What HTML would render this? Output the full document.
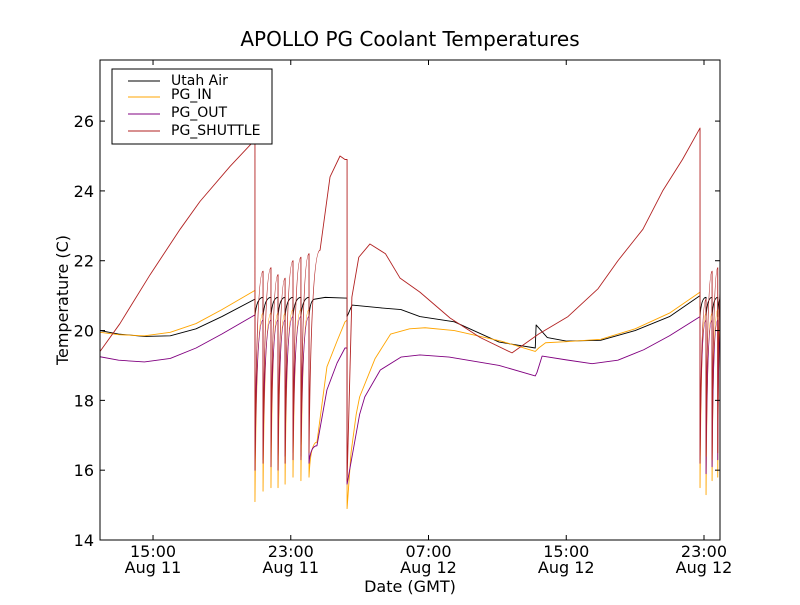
<!DOCTYPE html>
<html><head><meta charset="utf-8"><style>
html,body{margin:0;padding:0;background:#fff;}
svg text{font-family:"DejaVu Sans","Liberation Sans",sans-serif;}
</style></head><body>
<svg id="chart" width="800" height="600" viewBox="0 0 800 600" xmlns="http://www.w3.org/2000/svg">
<rect x="0" y="0" width="800" height="600" fill="#fff"/>
<text x="410" y="46" font-size="20" text-anchor="middle">APOLLO PG Coolant Temperatures</text>
<g id="plot"></g>
<rect x="100" y="60" width="620" height="480" fill="none" stroke="#000" stroke-width="1"/>
<g id="axes"></g>
<text x="0" y="0" transform="translate(68,300) rotate(-90)" font-size="16" text-anchor="middle">Temperature (C)</text>
<text x="410" y="592" font-size="16" text-anchor="middle">Date (GMT)</text>
<g>
<rect x="112" y="69" width="160" height="75" fill="#fff" stroke="#000" stroke-width="1"/>
<line x1="128" y1="81" x2="160" y2="81" stroke="#000" stroke-width="1"/>
<text x="171" y="85" font-size="14">Utah Air</text>
<line x1="128" y1="97" x2="160" y2="97" stroke="#FFA500" stroke-width="1"/>
<text x="171" y="99" font-size="14">PG_IN</text>
<line x1="128" y1="114" x2="160" y2="114" stroke="#800080" stroke-width="1"/>
<text x="171" y="117" font-size="14">PG_OUT</text>
<line x1="128" y1="131" x2="160" y2="131" stroke="#B22222" stroke-width="1"/>
<text x="171" y="135" font-size="14">PG_SHUTTLE</text>
</g>
</svg>
<script>
// hours since Aug 11 00:00 GMT
const yTicks = [14, 16, 18, 20, 22, 24, 26];
const xTickHours = [15, 23, 31, 39, 47];
const xTickTimes = ["15:00", "23:00", "07:00", "15:00", "23:00"];
const xTickDates = ["Aug 11", "Aug 11", "Aug 12", "Aug 12", "Aug 12"];

const cycleATimes = [20.92, 21.39, 21.85, 22.26, 22.67, 23.13, 23.59, 24.06];
const cycleBTimes = [46.77, 47.12, 47.47, 47.8];

const airPre = [[11.92,20.0],[13,19.9],[14.5,19.83],[16,19.85],[17.5,20.05],[19,20.4],[20.92,20.9]];
const airCycA_hi = [20.9,20.95,20.95,20.95,20.95,20.95,20.95,20.95];
const airCycA_lo = [20.4,20.4,20.4,20.4,20.4,20.4,20.4,20.4];
const airMid = [[24.4,20.9],[25,20.95],[26.15,20.93],[26.27,20.93],[26.27,20.4],[26.56,20.73],[28.2,20.65],[29.4,20.6],[30.5,20.4],[32.5,20.25],[35.1,19.67],[37.2,19.5],[37.25,20.16],[37.9,19.8],[39,19.7],[41,19.72],[43,20.0],[45,20.4],[46.77,21.0]];
const airCycB_hi = [21.0,20.95,20.95,20.95];
const airCycB_lo = [20.4,20.4,20.4,20.4];
const airEnd = [48.0,20.95];

const inPre = [[11.92,19.95],[13,19.88],[14.5,19.85],[16,19.95],[17.5,20.2],[19,20.6],[20.92,21.15]];
const inCycA_hi = [21.15,20.5,20.5,20.5,20.5,20.6,20.6,20.6];
const inCycA_lo = [15.1,15.4,15.5,15.5,15.6,15.8,15.7,15.8];
const inMid = [[24.52,16.8],[25.1,18.96],[25.69,19.7],[26.15,20.25],[26.27,20.3],[26.27,14.9],[26.5,16.5],[26.8,17.6],[27.0,18.1],[27.9,19.2],[28.8,19.9],[29.9,20.05],[30.8,20.08],[32.5,20.0],[34.3,19.8],[35.2,19.7],[37.2,19.4],[37.4,19.5],[37.8,19.65],[39,19.68],[41,19.75],[43,20.05],[45,20.5],[46.77,21.1]];
const inCycB_hi = [21.1,20.5,20.5,20.6];
const inCycB_lo = [15.5,15.3,15.7,15.8];
const inEnd = [48.0,20.6];

const outPre = [[11.92,19.25],[13,19.15],[14.5,19.1],[16,19.2],[17.5,19.5],[19,19.9],[20.92,20.45]];
const outCycA_hi = [20.45,20.3,20.3,20.3,20.3,20.4,20.4,20.4];
const outCycA_lo = [16.0,16.3,16.4,16.3,16.4,16.5,16.4,16.2];
const outMid = [[24.52,16.7],[25.1,18.3],[25.69,19.07],[26.15,19.5],[26.27,19.5],[26.27,15.6],[26.6,16.5],[27.0,17.6],[27.3,18.1],[28.2,18.87],[29.4,19.24],[30.5,19.3],[32.2,19.24],[35.1,19.0],[37.2,18.7],[37.3,18.8],[37.6,19.27],[39,19.16],[40.5,19.05],[42,19.15],[43.5,19.45],[45,19.85],[46.77,20.4]];
const outCycB_hi = [20.4,20.3,20.3,20.3];
const outCycB_lo = [16.3,15.9,16.1,16.3];
const outEnd = [48.0,20.3];

const shPre = [[11.92,19.4],[13.08,20.2],[14.83,21.6],[16.57,22.9],[17.73,23.7],[19.47,24.7],[20.8,25.4],[20.92,25.4]];
const shCycA_hi = [25.4,21.7,21.8,21.6,21.5,22.0,22.1,22.2];
const shCycA_lo = [16.0,16.2,16.1,16.0,16.2,16.3,16.3,16.5];
const shMid = [[24.7,22.3],[25.28,24.4],[25.86,25.0],[26.15,24.9],[26.27,24.9],[26.27,15.7],[26.55,20.96],[26.95,22.1],[27.6,22.48],[28.5,22.2],[29.35,21.5],[30.5,21.1],[32.25,20.36],[34.0,19.8],[35.85,19.36],[37.4,19.9],[39.1,20.4],[40.85,21.2],[42.0,22.0],[43.45,22.9],[44.6,24.0],[45.75,24.9],[46.77,25.8]];
const shCycB_hi = [25.8,20.9,21.7,21.8];
const shCycB_lo = [16.2,16.4,16.3,16.5];
const shEnd = [48.0,21.5];

const X0 = 100, X1 = 720, Y0 = 540, Y1 = 60;
const H0 = 11.92, H1 = 47.93, V0 = 14, V1 = 27.75;
function xs(h){ return X0 + (h - H0) / (H1 - H0) * (X1 - X0); }
function ys(v){ return Y0 - (v - V0) / (V1 - V0) * (Y0 - Y1); }

const NS = "http://www.w3.org/2000/svg";
const plot = document.getElementById("plot");
const axes = document.getElementById("axes");

const clip = document.createElementNS(NS, "clipPath");
clip.setAttribute("id", "pc");
const cr = document.createElementNS(NS, "rect");
cr.setAttribute("x", X0); cr.setAttribute("y", Y1); cr.setAttribute("width", X1 - X0); cr.setAttribute("height", Y0 - Y1);
clip.appendChild(cr);
plot.appendChild(clip);
plot.setAttribute("clip-path", "url(#pc)");

function pts(arr){ return arr.map(p => xs(p[0]).toFixed(2) + "," + ys(p[1]).toFixed(2)); }

function cyclePath(times, hi, lo, nextPt){
  let d = "";
  for (let i = 0; i < times.length; i++){
    const t = times[i];
    d += " L" + xs(t).toFixed(2) + "," + ys(hi[i]).toFixed(2);
    d += " L" + xs(t).toFixed(2) + "," + ys(lo[i]).toFixed(2);
    const nt = i + 1 < times.length ? times[i+1] : nextPt[0];
    const nv = i + 1 < times.length ? hi[i+1] : nextPt[1];
    const cx = t + 0.2 * (nt - t);
    d += " Q" + xs(cx).toFixed(2) + "," + ys(nv).toFixed(2) + " " + xs(nt).toFixed(2) + "," + ys(nv).toFixed(2);
  }
  return d;
}

function drawSeries(pre, aHi, aLo, mid, bHi, bLo, end, color, name){
  const p0 = pts(pre);
  let d = "M" + p0[0];
  for (let i = 1; i < p0.length; i++) d += " L" + p0[i];
  d += cyclePath(cycleATimes, aHi, aLo, mid[0]);
  pts(mid).forEach(s => d += " L" + s);
  d += cyclePath(cycleBTimes, bHi, bLo, end);
  const path = document.createElementNS(NS, "path");
  path.setAttribute("d", d);
  path.setAttribute("fill", "none");
  path.setAttribute("stroke", color);
  path.setAttribute("stroke-width", "0.9");
  path.setAttribute("stroke-linejoin", "round");
  
  
  plot.appendChild(path);
}

drawSeries(airPre, airCycA_hi, airCycA_lo, airMid, airCycB_hi, airCycB_lo, airEnd, "#000", "series-utah-air");
drawSeries(inPre, inCycA_hi, inCycA_lo, inMid, inCycB_hi, inCycB_lo, inEnd, "#FFA500", "series-pg-in");
drawSeries(outPre, outCycA_hi, outCycA_lo, outMid, outCycB_hi, outCycB_lo, outEnd, "#800080", "series-pg-out");
drawSeries(shPre, shCycA_hi, shCycA_lo, shMid, shCycB_hi, shCycB_lo, shEnd, "#B22222", "series-pg-shuttle");

function mk(tag, attrs){ const e = document.createElementNS(NS, tag); for (const k in attrs) e.setAttribute(k, attrs[k]); return e; }

yTicks.forEach(v => {
  const y = ys(v);
  const t1 = mk("line", {x1: X0, y1: y, x2: X0 + 5, y2: y, stroke: "#000"});
  
  
  axes.appendChild(t1);
  const t2 = mk("line", {x1: X1, y1: y, x2: X1 - 5, y2: y, stroke: "#000"});
  
  
  axes.appendChild(t2);
  const tx = mk("text", {x: X0 - 6, y: y + 6, "font-size": "16", "text-anchor": "end"});
  tx.textContent = v;
  
  
  axes.appendChild(tx);
});

xTickHours.forEach((h, i) => {
  const x = xs(h);
  const t1 = mk("line", {x1: x, y1: Y0, x2: x, y2: Y0 - 5, stroke: "#000"});
  
  
  axes.appendChild(t1);
  const t2 = mk("line", {x1: x, y1: Y1, x2: x, y2: Y1 + 5, stroke: "#000"});
  
  
  axes.appendChild(t2);
  const a = mk("text", {x: x, y: 557, "font-size": "16", "text-anchor": "middle"});
  a.textContent = xTickTimes[i];
  
  
  axes.appendChild(a);
  const b = mk("text", {x: x, y: 573, "font-size": "16", "text-anchor": "middle"});
  b.textContent = xTickDates[i];
  
  
  axes.appendChild(b);
});
</script>
</body></html>
